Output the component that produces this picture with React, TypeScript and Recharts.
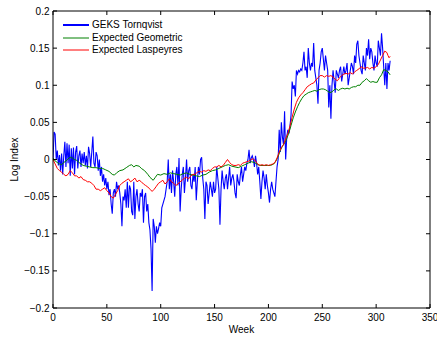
import { CartesianGrid, Label, Legend, Line, LineChart, XAxis, YAxis } from 'recharts'

// weekly GEKS Tornqvist log index, week 0..313
const gEKSTornqvist = [
  0.0, 0.037, 0.034, 0.0, 0.012, -0.008, 0.006, -0.015, 0.008, -0.02,
  0.005, 0.024, -0.01, 0.022, -0.005, 0.02, -0.022, 0.015, -0.012, 0.016,
  -0.02, 0.01, 0.018, -0.012, 0.005, 0.012, -0.01, 0.008, -0.005, 0.01,
  -0.008, 0.005, -0.012, 0.017, 0.008, -0.01, 0.01, 0.031, -0.005, -0.01,
  0.01, 0.005, -0.015, 0.0, -0.022, -0.01, -0.03, -0.02, -0.035, -0.025,
  -0.04, -0.03, -0.048, -0.04, -0.06, -0.073, -0.045, -0.04, -0.05, -0.03,
  -0.04, -0.035, -0.045, -0.06, -0.09, -0.05, -0.055, -0.04, -0.065, -0.03,
  -0.065, -0.035, -0.04, -0.07, -0.075, -0.03, -0.08, -0.05, -0.04, -0.06,
  -0.07, -0.045, -0.05, -0.04, -0.085, -0.05, -0.045, -0.07, -0.06, -0.085,
  -0.095, -0.12, -0.177, -0.08, -0.09, -0.112, -0.09, -0.1, -0.093, -0.085,
  -0.09, -0.065, -0.06, -0.055, -0.05, -0.04, -0.03, 0.0, -0.04, -0.02,
  -0.045, -0.015, -0.03, -0.05, -0.02, -0.01, -0.035, 0.002, -0.07, -0.04,
  -0.02, -0.01, -0.045, -0.025, 0.0, -0.03, -0.015, -0.01, -0.035, -0.04,
  -0.02, -0.03, -0.01, -0.055, -0.03, -0.01, -0.02, 0.0, 0.003, -0.025,
  -0.04, -0.08, -0.03, -0.035, -0.06, -0.045, -0.03, -0.04, -0.05, -0.03,
  -0.045, -0.04, -0.01, -0.025, -0.04, -0.088, -0.04, -0.015, -0.03, -0.04,
  -0.025, -0.02, -0.04, -0.025, -0.01, -0.035, -0.025, -0.02, -0.03, -0.045,
  -0.052, -0.02, -0.03, -0.035, -0.02, -0.01, -0.03, -0.02, -0.01, -0.015,
  -0.005, 0.0, 0.013, -0.005, 0.002, 0.005, 0.0, -0.01, 0.005, -0.005,
  -0.02, -0.01, -0.03, -0.053, -0.03, -0.015, -0.025, -0.04, -0.02, -0.035,
  -0.045, -0.058, -0.04, -0.03, -0.04, -0.045, -0.05, -0.03, -0.01, 0.0,
  0.04, 0.01, 0.05, 0.03, 0.02, 0.065, 0.0, 0.03, 0.04, 0.035,
  0.045, 0.06, 0.105, 0.095, 0.1, 0.085, 0.12, 0.115, 0.12, 0.118,
  0.122, 0.12, 0.13, 0.145, 0.12, 0.125, 0.11, 0.15, 0.13, 0.12,
  0.13, 0.125, 0.157, 0.12, 0.11, 0.1, 0.075, 0.12, 0.13, 0.145,
  0.15, 0.135, 0.12, 0.14, 0.13, 0.12, 0.07, 0.1, 0.055, 0.1,
  0.12, 0.105, 0.09, 0.12, 0.115, 0.11, 0.12, 0.125, 0.105, 0.115,
  0.125, 0.115, 0.12, 0.13, 0.1, 0.11, 0.12, 0.13, 0.125, 0.115,
  0.14, 0.13, 0.155, 0.16, 0.14, 0.13, 0.12, 0.115, 0.14, 0.13,
  0.12, 0.15, 0.14, 0.162, 0.135, 0.15, 0.145, 0.13, 0.12, 0.14,
  0.13, 0.125, 0.16, 0.15, 0.14, 0.17, 0.15, 0.125, 0.1, 0.13,
  0.095, 0.13, 0.12, 0.133,
]

// [week, value]
const expectedGeometric: [number, number][] = [
  [0, 0.002], [2, -0.002], [4, -0.004], [6, -0.006], [8, -0.007], [10, -0.004],
  [12, -0.002], [14, 0.001], [16, 0.003], [18, 0.002], [20, 0.0], [22, -0.001],
  [24, -0.004], [26, -0.006], [28, -0.008], [31, -0.009], [34, -0.01], [37, -0.011],
  [40, -0.011], [43, -0.012], [46, -0.012], [49, -0.014], [52, -0.016], [55, -0.02],
  [57, -0.021], [59, -0.018], [62, -0.015], [65, -0.014], [68, -0.011], [71, -0.008],
  [73, -0.007], [75, -0.01], [77, -0.008], [80, -0.009], [82, -0.012], [85, -0.015],
  [88, -0.02], [90, -0.024], [93, -0.028], [95, -0.024], [97, -0.02], [100, -0.021],
  [103, -0.019], [106, -0.02], [109, -0.018], [112, -0.019], [115, -0.02], [118, -0.021],
  [121, -0.019], [124, -0.018], [127, -0.02], [130, -0.021], [133, -0.022], [136, -0.023],
  [139, -0.021], [142, -0.02], [145, -0.017], [148, -0.015], [151, -0.014], [154, -0.012],
  [157, -0.01], [160, -0.008], [163, -0.007], [166, -0.009], [169, -0.01], [172, -0.011],
  [175, -0.009], [178, -0.007], [181, -0.005], [184, -0.003], [187, -0.004], [190, -0.007],
  [193, -0.008], [196, -0.008], [199, -0.008], [202, -0.008], [205, -0.006], [207, -0.002],
  [209, 0.004], [211, 0.012], [213, 0.018], [215, 0.022], [217, 0.028], [219, 0.036],
  [221, 0.046], [223, 0.056], [225, 0.064], [227, 0.071], [229, 0.077], [231, 0.082],
  [233, 0.086], [235, 0.088], [237, 0.09], [239, 0.091], [241, 0.092], [243, 0.093],
  [245, 0.092], [247, 0.094], [249, 0.095], [251, 0.095], [253, 0.094], [255, 0.092],
  [257, 0.09], [259, 0.091], [261, 0.094], [263, 0.095], [265, 0.093], [267, 0.095],
  [269, 0.096], [271, 0.095], [273, 0.096], [275, 0.095], [277, 0.097], [279, 0.098],
  [281, 0.098], [283, 0.1], [285, 0.1], [287, 0.104], [289, 0.106], [291, 0.109],
  [293, 0.106], [295, 0.104], [297, 0.105], [299, 0.104], [301, 0.104], [303, 0.11],
  [305, 0.114], [307, 0.121], [309, 0.12], [311, 0.118], [313, 0.114],
]

const expectedLaspeyres: [number, number][] = [
  [0, 0.0], [2, -0.006], [4, -0.012], [6, -0.015], [8, -0.017], [10, -0.02],
  [12, -0.022], [14, -0.02], [16, -0.015], [18, -0.018], [20, -0.022], [22, -0.022],
  [24, -0.025], [26, -0.023], [28, -0.027], [30, -0.028], [32, -0.03], [34, -0.03],
  [36, -0.032], [38, -0.035], [40, -0.04], [42, -0.04], [44, -0.042], [46, -0.04],
  [48, -0.038], [50, -0.042], [52, -0.045], [54, -0.05], [56, -0.052], [58, -0.047],
  [60, -0.042], [62, -0.035], [64, -0.032], [66, -0.03], [68, -0.028], [70, -0.026],
  [72, -0.03], [74, -0.028], [76, -0.025], [78, -0.03], [80, -0.028], [82, -0.03],
  [84, -0.033], [86, -0.035], [88, -0.037], [90, -0.04], [92, -0.043], [94, -0.04],
  [96, -0.036], [98, -0.032], [100, -0.03], [102, -0.028], [104, -0.033], [106, -0.03],
  [108, -0.026], [110, -0.03], [112, -0.032], [114, -0.035], [116, -0.033], [118, -0.03],
  [120, -0.028], [122, -0.025], [124, -0.024], [126, -0.026], [128, -0.022], [130, -0.02],
  [132, -0.02], [134, -0.017], [136, -0.016], [138, -0.017], [140, -0.015], [142, -0.016],
  [144, -0.014], [146, -0.015], [148, -0.012], [150, -0.01], [152, -0.01], [154, -0.008],
  [156, -0.01], [158, -0.008], [160, -0.004], [162, 0.0], [164, -0.004], [166, -0.007],
  [168, -0.008], [170, -0.008], [172, -0.007], [174, -0.008], [176, -0.005], [178, -0.004],
  [180, -0.003], [182, -0.002], [184, 0.0], [186, 0.001], [188, -0.002], [190, -0.006],
  [192, -0.008], [194, -0.007], [196, -0.008], [198, -0.007], [200, -0.008], [202, -0.007],
  [204, -0.006], [206, -0.004], [208, 0.002], [210, 0.01], [212, 0.016], [214, 0.02],
  [216, 0.028], [218, 0.035], [220, 0.045], [222, 0.057], [224, 0.068], [226, 0.077],
  [228, 0.083], [230, 0.087], [232, 0.09], [234, 0.094], [236, 0.098], [238, 0.1],
  [240, 0.102], [242, 0.103], [244, 0.107], [246, 0.11], [248, 0.113], [250, 0.113],
  [252, 0.111], [254, 0.113], [256, 0.112], [258, 0.113], [260, 0.111], [262, 0.108],
  [264, 0.106], [266, 0.11], [268, 0.113], [270, 0.115], [272, 0.116], [274, 0.115],
  [276, 0.117], [278, 0.115], [280, 0.118], [282, 0.12], [284, 0.122], [286, 0.125],
  [288, 0.123], [290, 0.123], [292, 0.124], [294, 0.122], [296, 0.124], [298, 0.123],
  [300, 0.125], [302, 0.128], [304, 0.134], [306, 0.14], [308, 0.146], [310, 0.144],
  [311, 0.14], [312, 0.137], [313, 0.139],
]

const seriesNames = ['GEKS Tornqvist', 'Expected Geometric', 'Expected Laspeyres']
const xTicks = [0, 50, 100, 150, 200, 250, 300, 350]
const yTicks = [-0.2, -0.15, -0.1, -0.05, 0, 0.05, 0.1, 0.15, 0.2]

const tornqvistData = gEKSTornqvist.map((value, week) => ({ week, value }))
const geometricData = expectedGeometric.map(([week, value]) => ({ week, value }))
const laspeyresData = expectedLaspeyres.map(([week, value]) => ({ week, value }))

const FONT = '"Liberation Sans", Arial, Helvetica, sans-serif'
const tickStyle = { fill: '#000', fontSize: 10, fontFamily: FONT }
const fmt = (v: number) => String(v).replace('-', '\u2212')
const noLabel = () => <g />

const legendWidths: Record<string, number> = {
  'GEKS Tornqvist': 2,
  'Expected Geometric': 1,
  'Expected Laspeyres': 1,
}

function MatlabLegend(props: any) {
  const items = [...(props.payload || [])].sort(
    (a: any, b: any) => seriesNames.indexOf(a.value) - seriesNames.indexOf(b.value),
  )
  return (
    <div style={{ fontFamily: FONT, fontSize: 10, color: '#000' }}>
      {items.map((it: any) => (
        <div
          key={it.value}
          style={{ display: 'flex', alignItems: 'center', height: 12.5 }}
        >
          <svg width={26} height={4} style={{ marginRight: 3.5 }}>
            <line
              x1={0}
              x2={26}
              y1={2}
              y2={2}
              stroke={it.color}
              strokeWidth={legendWidths[it.value] || 1}
            />
          </svg>
          <span style={{ lineHeight: 1 }}>{it.value}</span>
        </div>
      ))}
    </div>
  )
}

export default function App() {
  return (
    <div style={{ position: 'absolute', left: 0, top: 0, background: '#fff' }}>
      <LineChart
        width={437}
        height={337}
        margin={{ top: 10, right: 6, bottom: 0, left: 0 }}
        style={{ fontFamily: FONT }}
      >
        <CartesianGrid stroke="none" fill="#fff" />
        <XAxis
          xAxisId={0}
          dataKey="week"
          type="number"
          domain={[0, 350]}
          ticks={xTicks}
          interval={0}
          allowDataOverflow
          height={29}
          tickSize={-4}
          tickMargin={9.5}
          tick={tickStyle}
          stroke="#000"
        >
          <Label
            content={({ viewBox }: any) => (
              <text
                x={viewBox.x + viewBox.width / 2}
                y={viewBox.y + 24.5}
                textAnchor="middle"
                fontSize={10}
                fontFamily={FONT}
                fill="#000"
              >
                Week
              </text>
            )}
          />
        </XAxis>
        <XAxis
          xAxisId="top"
          orientation="top"
          dataKey="week"
          type="number"
          domain={[0, 350]}
          ticks={xTicks}
          interval={0}
          allowDataOverflow
          height={1}
          tickSize={-4}
          tick={noLabel}
          stroke="#000"
        />
        <YAxis
          yAxisId={0}
          type="number"
          domain={[-0.2, 0.2]}
          ticks={yTicks}
          interval={0}
          allowDataOverflow
          width={53}
          tickSize={-4}
          tickMargin={7.5}
          tick={tickStyle}
          tickFormatter={fmt}
          stroke="#000"
        >
          <Label
            content={({ viewBox }: any) => {
              const cx = viewBox.x + 14
              const cy = viewBox.y + viewBox.height / 2
              return (
                <text
                  x={cx}
                  y={cy}
                  transform={`rotate(-90 ${cx} ${cy})`}
                  textAnchor="middle"
                  dominantBaseline="central"
                  fontSize={10}
                  fontFamily={FONT}
                  fill="#000"
                >
                  Log Index
                </text>
              )
            }}
          />
        </YAxis>
        <YAxis
          yAxisId="right"
          orientation="right"
          type="number"
          domain={[-0.2, 0.2]}
          ticks={yTicks}
          interval={0}
          allowDataOverflow
          width={1}
          tickSize={-4}
          tick={noLabel}
          stroke="#000"
        />
        <Legend
          layout="horizontal"
          verticalAlign="middle"
          align="center"
          content={<MatlabLegend />}
          wrapperStyle={{ top: 19, left: 62.5, width: 'auto', height: 'auto' }}
        />
        <Line
          data={tornqvistData}
          dataKey="value"
          name="GEKS Tornqvist"
          stroke="#0000ff"
          strokeWidth={1.1}
          dot={false}
          activeDot={false}
          isAnimationActive={false}
        />
        <Line
          data={geometricData}
          dataKey="value"
          name="Expected Geometric"
          stroke="#008000"
          strokeWidth={1}
          dot={false}
          activeDot={false}
          isAnimationActive={false}
        />
        {/* same domains as the bottom/left axes; drawn on top/right so the box closes */}
        <Line
          data={laspeyresData}
          dataKey="value"
          name="Expected Laspeyres"
          xAxisId="top"
          yAxisId="right"
          stroke="#ff0000"
          strokeWidth={1}
          dot={false}
          activeDot={false}
          isAnimationActive={false}
        />
      </LineChart>
    </div>
  )
}
